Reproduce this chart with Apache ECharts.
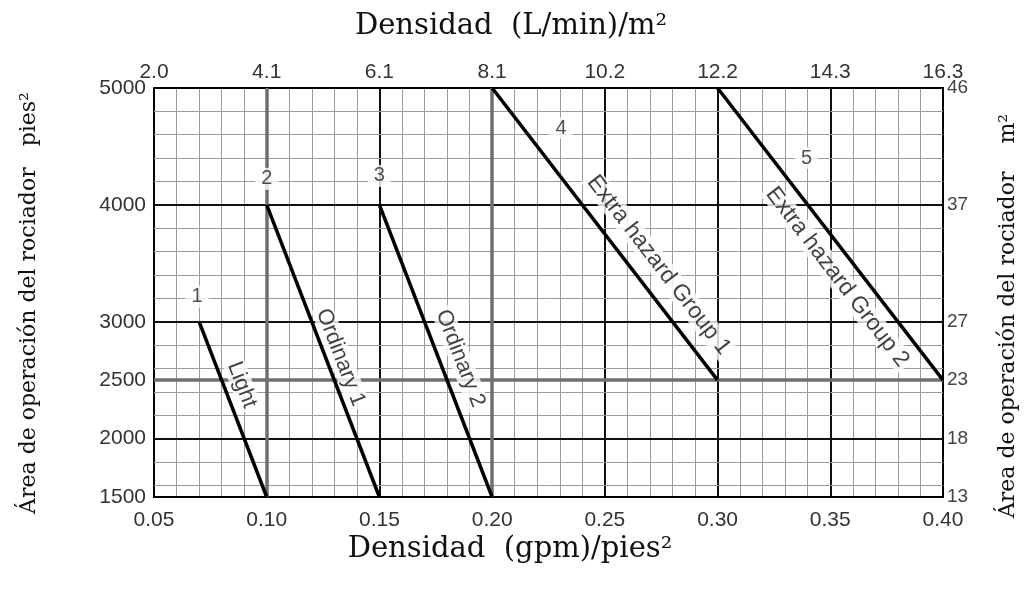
<!DOCTYPE html>
<html>
<head>
<meta charset="utf-8">
<script src="https://cdn.jsdelivr.net/npm/echarts@6/dist/echarts.min.js"></script>
<style>html,body{margin:0;padding:0;background:#fff;}#c{width:1026px;height:591px;}</style>
</head>
<body>
<div id="c"></div>
<script>
// ---- data ----
const xMin = 0.05, xMax = 0.40, xStep = 0.05;
const yMin = 1500, yMax = 5000;
const topLabels = ['2.0', '4.1', '6.1', '8.1', '10.2', '12.2', '14.3', '16.3'];
const leftLabelValues = [1500, 2000, 2500, 3000, 4000, 5000];
const rightLabels = ['13', '18', '23', '27', '37', '46'];
const yMinorGrid = [1600, 1800, 2200, 2400, 2600, 2800, 3200, 3400, 3600, 3800, 4200, 4400, 4600, 4800];
const yMajorGrid = [2000, 3000, 4000];
const heavyX = [0.10, 0.20];
const heavyY = [2500];
const curveNumbers = ['1', '2', '3', '4', '5'];
const curveNames = ['Light', 'Ordinary 1', 'Ordinary 2', 'Extra hazard Group 1', 'Extra hazard Group 2'];
const curveStart = [[0.07, 3000], [0.10, 4000], [0.15, 4000], [0.20, 5000], [0.30, 5000]];
const curveEnd = [[0.10, 1500], [0.15, 1500], [0.20, 1500], [0.30, 2500], [0.40, 2500]];
const titleTop = 'Densidad  (L/min)/m²';
const titleBottom = 'Densidad  (gpm)/pies²';
const titleLeft = 'Área de operación del rociador   pies²';
const titleRight = 'Área de operación del rociador    m²';

// ---- styles ----
const sansFont = '"Liberation Sans", Arial, Helvetica, sans-serif';
const serifFont = '"DejaVu Serif", "Liberation Serif", serif';
const nameAngle = [69, 69, 69, 52.3, 52.5];               // clockwise on screen
const nameFontSize = [22, 22, 22, 23, 23];
const nameScreenOffset = [[9, -24.5], [17.5, 6.5], [24.5, 7.5], [54, 31], [7, 43]];
const numberOffset = [[-2, -25], [0, -26], [0, -29], [69, 40], [89, 70]];

function localOffset(s, deg) {
  const t = deg * Math.PI / 180, c = Math.cos(t), si = Math.sin(t);
  return [s[0] * c + s[1] * si, -s[0] * si + s[1] * c];
}

const chart = echarts.init(document.getElementById('c'), null, {renderer: 'canvas'});

const gridLines = [];
yMinorGrid.forEach(v => gridLines.push({yAxis: v, lineStyle: {color: '#9a9a9a', width: 1, type: 'solid'}}));
yMajorGrid.forEach(v => gridLines.push({yAxis: v, lineStyle: {color: '#111', width: 2, type: 'solid'}}));
heavyY.forEach(v => gridLines.push({yAxis: v, lineStyle: {color: '#6e6e6e', width: 3.5, type: 'solid'}}));
heavyX.forEach(v => gridLines.push({xAxis: v, lineStyle: {color: '#6e6e6e', width: 3.5, type: 'solid'}}));

const series = [{
  type: 'line', name: 'grid', data: [[xMin, yMin]], symbol: 'none', silent: true, z: 1,
  lineStyle: {opacity: 0},
  markLine: {silent: true, symbol: ['none', 'none'], label: {show: false}, animation: false, data: gridLines}
}];
curveStart.forEach((s, i) => {
  series.push({
    type: 'line', name: curveNames[i], data: [s, curveEnd[i]], symbol: 'none', z: 5, silent: true,
    lineStyle: {color: '#000', width: 3.5}
  });
});
series.push({
  type: 'scatter', symbolSize: 0, z: 10, silent: true,
  data: curveNames.map((n, i) => ({
    value: [(curveStart[i][0] + curveEnd[i][0]) / 2, (curveStart[i][1] + curveEnd[i][1]) / 2],
    label: {
      show: true, position: 'inside', formatter: n, rotate: -nameAngle[i],
      offset: localOffset(nameScreenOffset[i], nameAngle[i]),
      color: '#111', fontFamily: sansFont, fontSize: nameFontSize[i], backgroundColor: '#fff', padding: [0, 3]
    }
  }))
});
series.push({
  type: 'scatter', symbolSize: 0, z: 10, silent: true,
  data: curveNumbers.map((n, i) => ({
    value: curveStart[i],
    label: {
      show: true, position: 'inside', formatter: n, offset: numberOffset[i],
      color: '#222', fontFamily: sansFont, fontSize: 20, backgroundColor: '#fff', padding: [1, 6]
    }
  }))
});

const axisLineStyle = {show: true, lineStyle: {color: '#000', width: 2}};

chart.setOption({
  animation: false,
  backgroundColor: '#fff',
  grid: {left: 154, right: 83, top: 88, bottom: 94, containLabel: false},
  xAxis: [{
    type: 'value', position: 'bottom', min: xMin, max: xMax, interval: xStep,
    axisLine: axisLineStyle, axisTick: {show: false},
    axisLabel: {color: '#333', fontFamily: sansFont, fontSize: 21, margin: 13, formatter: v => v.toFixed(2)},
    splitLine: {show: true, lineStyle: {color: '#111', width: 2}},
    minorTick: {show: false, splitNumber: 5},
    minorSplitLine: {show: true, lineStyle: {color: '#9a9a9a', width: 1}}
  }, {
    type: 'value', position: 'top', min: xMin, max: xMax, interval: xStep,
    axisLine: axisLineStyle, axisTick: {show: false},
    axisLabel: {color: '#333', fontFamily: sansFont, fontSize: 21, margin: 5,
      formatter: v => topLabels[Math.round((v - xMin) / xStep)]},
    splitLine: {show: false}
  }],
  yAxis: [{
    type: 'value', position: 'left', min: yMin, max: yMax, interval: 500,
    axisLine: axisLineStyle, axisTick: {show: false},
    axisLabel: {color: '#333', fontFamily: sansFont, fontSize: 21, margin: 8, customValues: leftLabelValues,
      formatter: v => String(v)},
    splitLine: {show: false}
  }, {
    type: 'value', position: 'right', min: yMin, max: yMax, interval: 500,
    axisLine: axisLineStyle, axisTick: {show: false},
    axisLabel: {color: '#444', fontFamily: sansFont, fontSize: 19, margin: 4, customValues: leftLabelValues,
      formatter: v => rightLabels[leftLabelValues.indexOf(v)]},
    splitLine: {show: false}
  }],
  graphic: [
    {type: 'text', x: 511, y: 26, style: {text: titleTop, font: '29px ' + serifFont, fill: '#111', align: 'center', verticalAlign: 'middle'}},
    {type: 'text', x: 510, y: 549, style: {text: titleBottom, font: '29px ' + serifFont, fill: '#111', align: 'center', verticalAlign: 'middle'}},
    {type: 'text', x: 29, y: 303, rotation: Math.PI / 2, style: {text: titleLeft, font: '22px ' + serifFont, fill: '#111', align: 'center', verticalAlign: 'middle'}},
    {type: 'text', x: 1008, y: 316, rotation: Math.PI / 2, style: {text: titleRight, font: '22px ' + serifFont, fill: '#111', align: 'center', verticalAlign: 'middle'}}
  ],
  series: series
});
</script>
</body>
</html>
